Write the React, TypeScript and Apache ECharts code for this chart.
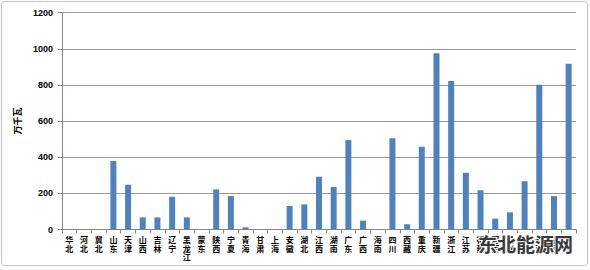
import React, { useEffect, useRef } from "react";
import * as echarts from "echarts";

const categories = [
  "华北", "河北", "冀北", "山东", "天津", "山西", "吉林", "辽宁", "黑龙江", "蒙东",
  "陕西", "宁夏", "青海", "甘肃", "上海", "安徽", "湖北", "江西", "湖南", "广东",
  "广西", "海南", "四川", "西藏", "重庆", "新疆", "浙江", "江苏", "福建", "河南",
  "贵州", "三峡", "云南", "蒙西", "西南",
];

const values = [
  0, 0, 0, 379, 248, 67, 67, 181, 67, 0,
  222, 185, 12, 0, 0, 130, 139, 292, 235, 495,
  49, 0, 505, 29, 458, 975, 822, 314, 217, 60,
  95, 267, 801, 185, 917,
];

const yTicks = [0, 200, 400, 600, 800, 1000, 1200];
const yName = "万千瓦";
const watermark = "东北能源网";

export default function App() {
  const ref = useRef<HTMLDivElement>(null);
  useEffect(() => {
    if (!ref.current) return;
    const chart = echarts.init(ref.current, null, { renderer: "svg" });
    chart.setOption({
      animation: false,
      backgroundColor: "#ffffff",
      grid: { left: 62, right: 14, top: 12.7, bottom: 40.5, containLabel: false },
      xAxis: {
        type: "category",
        data: categories,
        boundaryGap: true,
        axisLine: { lineStyle: { color: "#888888", width: 1 } },
        axisTick: { show: true, alignWithLabel: false, length: 4, lineStyle: { color: "#888888" } },
        axisLabel: {
          interval: 0,
          margin: 6,
          fontSize: 8,
          lineHeight: 8.5,
          fontWeight: "bold",
          color: "#000000",
          fontFamily: "Noto Sans CJK SC",
          hideOverlap: false,
          overflow: "none",
          formatter: (v: string) => v.split("").join("\n"),
        },
      },
      yAxis: {
        type: "value",
        min: yTicks[0],
        max: yTicks[yTicks.length - 1],
        interval: 200,
        name: yName,
        nameLocation: "middle",
        nameRotate: 90,
        nameGap: 40,
        nameTextStyle: { fontSize: 9, fontWeight: "bold", color: "#000000", fontFamily: "Noto Sans CJK SC" },
        axisLine: { show: true, lineStyle: { color: "#888888" } },
        axisTick: { show: true, length: 4, lineStyle: { color: "#888888" } },
        axisLabel: {
          fontSize: 9,
          fontWeight: "bold",
          color: "#000000",
          margin: 9,
          fontFamily: "Liberation Sans",
          formatter: (v: number) => String(v),
        },
        splitLine: { lineStyle: { color: "#999999", width: 1 } },
      },
      series: [
        {
          type: "bar",
          data: values,
          barWidth: 6,
          itemStyle: { color: "#4F81BD" },
        },
      ],
      graphic: [
        {
          type: "rect",
          shape: { x: 1.5, y: 1.5, width: 586, height: 264, r: 3 },
          style: { fill: "none", stroke: "#c0c0c0", lineWidth: 1 },
          silent: true,
        },
        {
          type: "text",
          x: 478,
          y: 234,
          style: {
            text: watermark,
            fontSize: 19,
            fontWeight: "bold",
            fill: "#3a3a3a",
            stroke: "#ffffff",
            lineWidth: 2,
            fontFamily: "Noto Sans CJK SC",
          },
          z: 100,
        },
      ],
    });
    return () => chart.dispose();
  }, []);
  return <div ref={ref} style={{ width: 590, height: 270, position: "absolute", left: 0, top: 0 }} />;
}
